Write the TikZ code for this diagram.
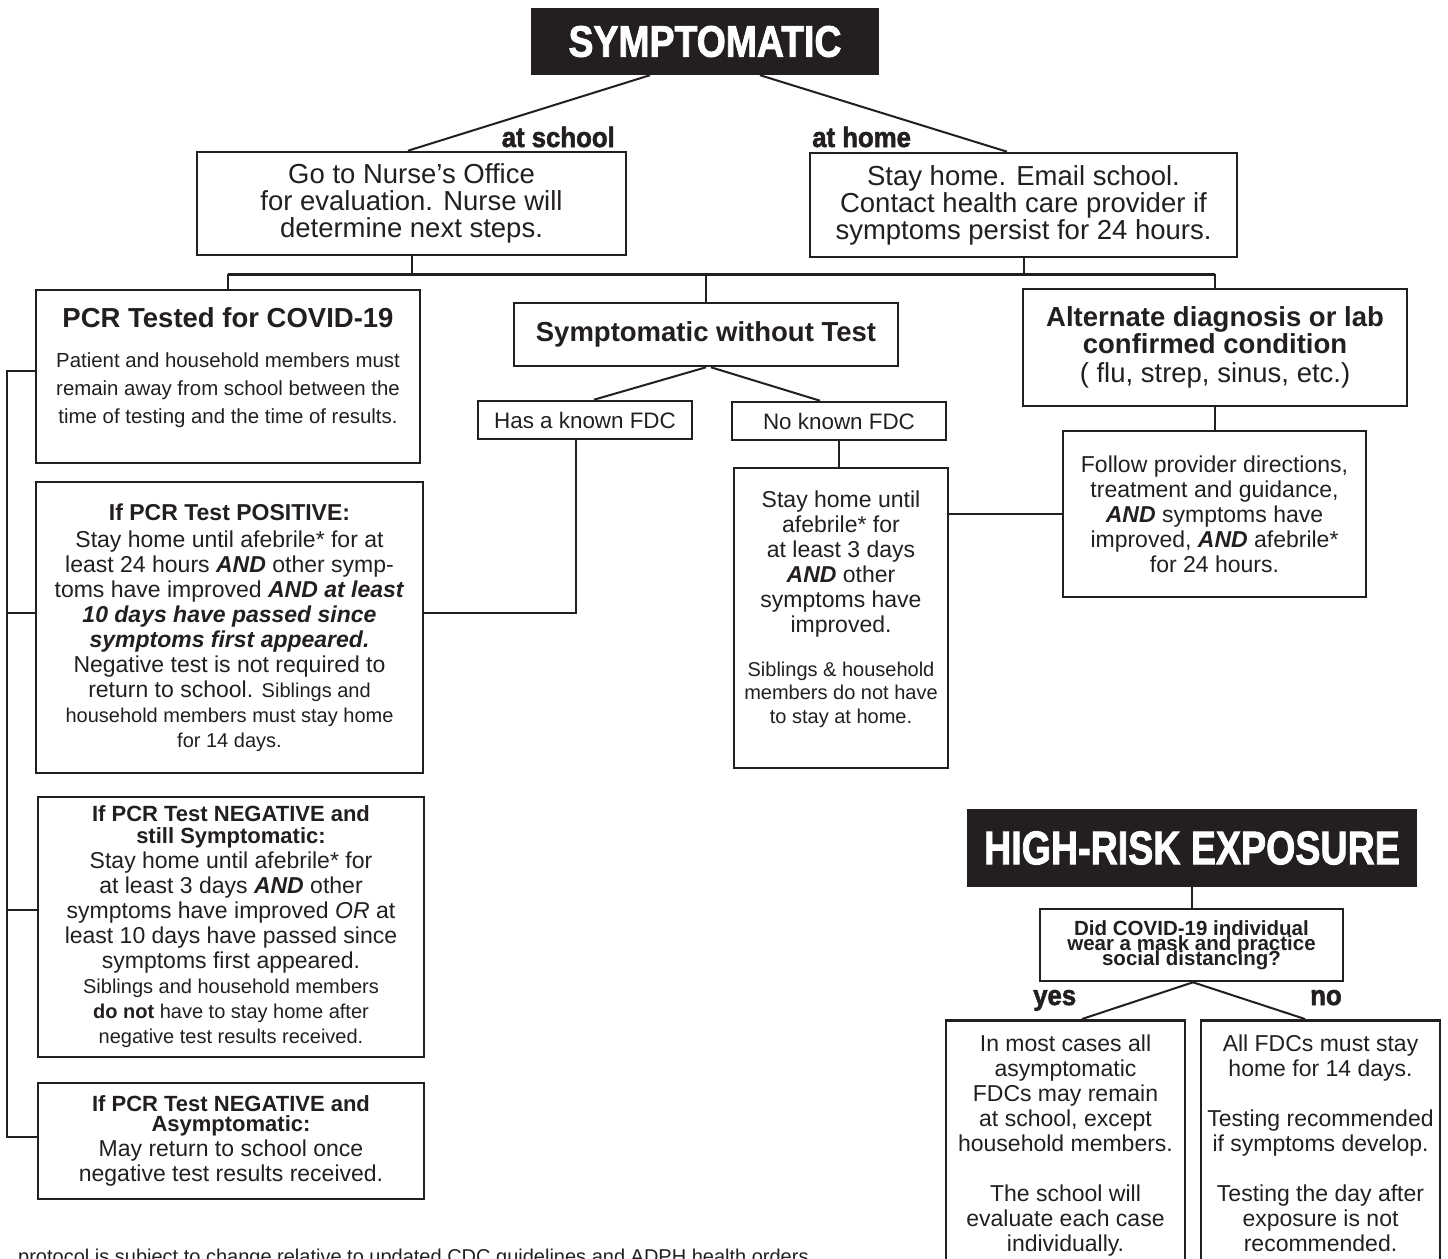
\documentclass[tikz,border=0pt]{standalone}
\usepackage{fontspec}
\setmainfont{Liberation Sans}
\newfontfamily\heavy[FakeBold=2]{Liberation Sans Bold}
\usetikzlibrary{positioning, calc}
\definecolor{ink}{RGB}{35,31,32}
\newcommand{\fsz}[2]{\fontsize{#1}{#2}\selectfont}
\newcommand{\smalltxt}{\fontsize{20}{25}\selectfont}
\newcommand{\bAND}{\textbf{\textit{AND}}}
\tikzstyle{box}=[draw=ink, line width=2.6pt, text=ink, align=center, inner sep=0pt]
\tikzstyle{head}=[fill=ink, text=white, inner sep=0pt]
\tikzstyle{lbl}=[text=ink, inner sep=0pt, font=\heavy\fsz{28}{28}]
\tikzstyle{ln}=[draw=ink, line width=2pt]

\begin{document}
\begin{tikzpicture}[x=1pt, y=-1pt]
\fill[white] (0,0) rectangle (1448,1258);
\useasboundingbox (0,0) rectangle (1448,1258);

\node [head, minimum width=348pt, minimum height=67pt] (sym) at (705,41.5) {\heavy\fsz{44}{44}\scalebox{0.85}[1]{SYMPTOMATIC}};
\node [lbl, anchor=base east] (school) at (615,147) {\scalebox{0.92}[1]{at school}};
\node [lbl, anchor=base west] (athome) at (812,147) {\scalebox{0.92}[1]{at home}};
\node [box, minimum width=429pt, minimum height=103pt, font=\fsz{27.5}{27}] (nurse) at (411.5,203.5) {Go to Nurse's Office\\ for evaluation. Nurse will\\ determine next steps.};
\node [box, minimum width=427pt, minimum height=104pt, font=\fsz{27.5}{27}] (home) at (1023.5,205) {Stay home. Email school.\\ Contact health care provider if\\ symptoms persist for 24 hours.};

\node [box, minimum width=384pt, minimum height=173pt, font=\fsz{20.4}{28}] (pcr) at (228,376.5) {{\fsz{27.5}{28}\bfseries PCR Tested for COVID-19}\\[12pt] Patient and household members must\\ remain away from school between the\\ time of testing and the time of results.\\[-7pt] \rule{0pt}{0pt}};
\node [box, minimum width=384pt, minimum height=63pt, font=\fsz{27.5}{27}\bfseries] (swt) at (706,334.5) {Symptomatic without Test};
\node [box, minimum width=384pt, minimum height=117pt, font=\fsz{27.5}{27}] (alt) at (1215,347.5) {\textbf{Alternate diagnosis or lab}\\ \textbf{confirmed condition}\\[2pt] ( flu, strep, sinus, etc.)};

\node [box, minimum width=214pt, minimum height=38pt, font=\fsz{22.4}{25}] (has) at (585,420) {Has a known FDC};
\node [box, minimum width=214pt, minimum height=38pt, font=\fsz{22.4}{25}] (nofdc) at (839,421) {No known FDC};
\node [box, minimum width=214pt, minimum height=300pt, font=\fsz{23}{25}] (stay) at (841,618) {Stay home until\\ afebrile* for\\ at least 3 days\\ \bAND{} other\\ symptoms have\\ improved.\\[19pt] {\smalltxt Siblings \& household}\\[-1.5pt] {\smalltxt members do not have}\\[-1.5pt] {\smalltxt to stay at home.}\\[-3pt] \rule{0pt}{0pt}};
\node [box, minimum width=303pt, minimum height=166pt, font=\fsz{23}{25}] (follow) at (1214.5,514) {Follow provider directions,\\ treatment and guidance,\\ \bAND{} symptoms have\\ improved, \bAND{} afebrile*\\ for 24 hours.};

\node [box, minimum width=387pt, minimum height=291pt, font=\fsz{23}{25}] (pos) at (229.5,627.5) {\textbf{If PCR Test POSITIVE:}\\[2pt] Stay home until afebrile* for at\\ least 24 hours \bAND{} other symp-\\ toms have improved \textbf{\textit{AND at least}}\\ \textbf{\textit{10 days have passed since}}\\ \textbf{\textit{symptoms first appeared.}}\\ Negative test is not required to\\ return to school. {\smalltxt Siblings and}\\ {\smalltxt household members must stay home}\\ {\smalltxt for 14 days.}};
\node [box, minimum width=386pt, minimum height=260pt, font=\fsz{23}{25}] (negs) at (231,927) {{\fsz{22}{25}\bfseries If PCR Test NEGATIVE and}\\[-3pt] {\fsz{22}{25}\bfseries still Symptomatic:}\\ Stay home until afebrile* for\\ at least 3 days \bAND{} other\\ symptoms have improved \textit{OR} at\\ least 10 days have passed since\\ symptoms first appeared.\\ {\smalltxt Siblings and household members}\\ {\smalltxt\textbf{do not} have to stay home after}\\ {\smalltxt negative test results received.}};
\node [box, minimum width=386pt, minimum height=116pt, font=\fsz{23}{25}] (nega) at (231,1141) {{\fsz{22}{25}\bfseries If PCR Test NEGATIVE and}\\[-5pt] {\fsz{22}{25}\bfseries Asymptomatic:}\\ May return to school once\\ negative test results received.};

\node [head, minimum width=450pt, minimum height=78pt] (risk) at (1192,848) {\heavy\fsz{47}{47}\scalebox{0.80}[1]{HIGH-RISK EXPOSURE}};
\node [box, minimum width=303pt, minimum height=72pt, font=\fsz{20.5}{21}\bfseries] (ques) at (1191.5,945) {Did COVID-19 individual\\[-6pt] wear a mask and practice\\[-6pt] social distancing?};
\node [lbl, anchor=base west] (yeslbl) at (1033,1005) {\scalebox{0.92}[1]{yes}};
\node [lbl, anchor=base west] (nolbl) at (1310,1005) {\scalebox{0.92}[1]{no}};
\node [box, anchor=north, minimum width=239pt, inner ysep=15pt, font=\fsz{23}{25}] (yesb) at (1065.5,1019) {In most cases all\\ asymptomatic\\ FDCs may remain\\ at school, except\\ household members.\\[25pt] The school will\\ evaluate each case\\ individually.};
\node [box, anchor=north, minimum width=239pt, inner ysep=15pt, font=\fsz{23}{25}] (nob) at (1320.5,1019) {All FDCs must stay\\ home for 14 days.\\[25pt] Testing recommended\\ if symptoms develop.\\[25pt] Testing the day after\\ exposure is not\\ recommended.};

\node [text=ink, anchor=base west, inner sep=0pt, font=\fsz{20}{24}] (note) at (18,1263) {protocol is subject to change relative to updated CDC guidelines and ADPH health orders.};

\coordinate (bar) at (0,274);
\path [ln] ([xshift=-55pt]sym.south) edge ([xshift=-3.5pt]nurse.north)
           ([xshift=55pt]sym.south) edge ([xshift=-16.5pt]home.north);
\draw [ln, line width=3pt] (pcr |- bar) -- (alt |- bar);
\path [ln] (nurse) edge (nurse |- bar) (home) edge (home |- bar)
           (pcr) edge (pcr |- bar) (swt) edge (swt |- bar) (alt) edge (alt |- bar);
\path [ln] (swt.south) edge ([xshift=9pt]has.north)
           ([xshift=5pt]swt.south) edge ([xshift=-19pt]nofdc.north);
\draw [ln] ([xshift=-9pt]has.south) |- ([yshift=14.5pt]pos.east);
\path [ln] (nofdc.south) edge (nofdc.south |- stay.north)
           (alt.south) edge (alt.south |- follow.north)
           (follow.west) edge (follow.west -| stay.east);
\draw [ln] ([yshift=5.5pt]pcr.west) -| ([xshift=-30pt, yshift=4pt]nega.west) -- ([yshift=4pt]nega.west);
\draw [ln] ([yshift=14.5pt]pos.west) -- ++(-28,0);
\draw [ln] ([yshift=17pt]negs.west) -- ++(-30,0);
\path [ln] (risk.south) edge (risk.south |- ques.north)
           ([xshift=1.5pt]ques.south) edge ([xshift=16.5pt]yesb.north)
           ([xshift=1.5pt]ques.south) edge ([xshift=-15.5pt]nob.north);
\end{tikzpicture}
\end{document}
